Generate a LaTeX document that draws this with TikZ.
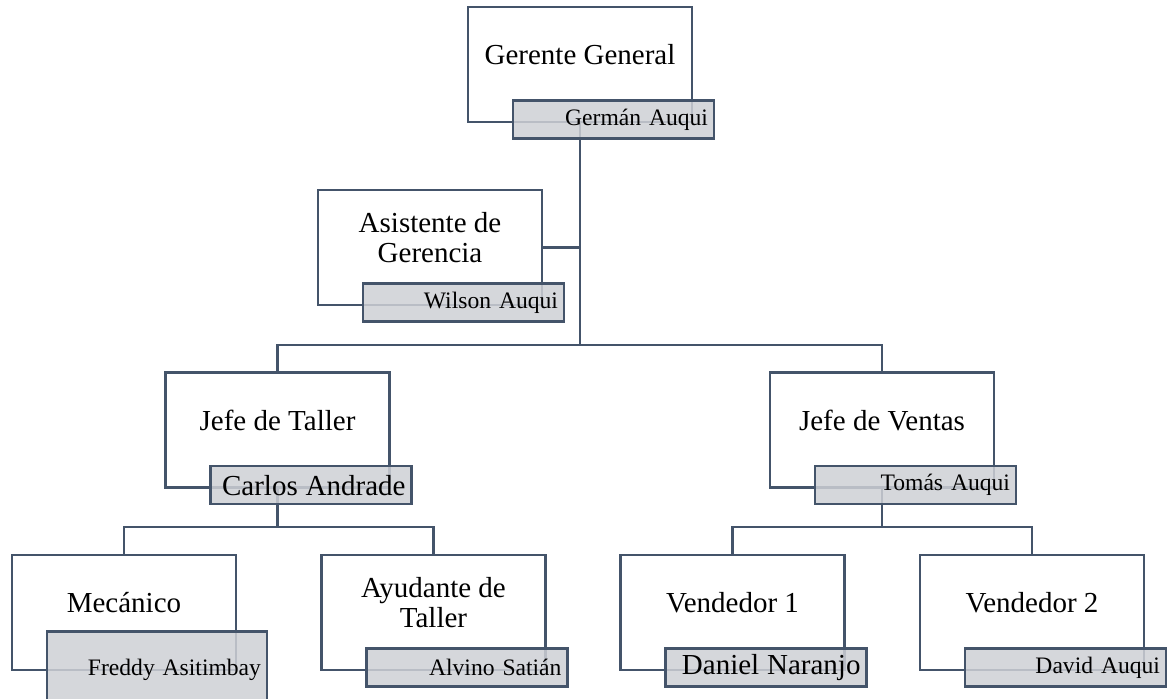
\documentclass[tikz,border=0pt]{standalone}
\usepackage{fontspec}
\setmainfont{Liberation Serif}
\usepackage{tikz}
\usetikzlibrary{backgrounds}

\definecolor{edge}{HTML}{44546A}
\definecolor{namefill}{HTML}{CED0D5}

\tikzset{
  rolebox/.style={draw=edge, line width=1.3pt, minimum width=112pt, minimum height=57.5pt, inner sep=0pt},
  roletext/.style={font=\fontsize{14.5}{15}\selectfont, align=center, inner sep=0pt},
  namebox/.style={draw=edge, line width=1.3pt, fill=namefill, fill opacity=0.85, text opacity=1,
    anchor=north west, font=\fontsize{11.8}{13}\selectfont, text width=94.5pt, align=right,
    inner xsep=3pt, inner ysep=0pt, minimum height=19pt},
  link/.style={draw=edge, line width=1.3pt}
}
\newcommand{\bigname}{\fontsize{14.5}{16}\selectfont}

\begin{document}
\begin{tikzpicture}[x=0.5pt, y=-0.5pt]
    \useasboundingbox (0,0) rectangle (1170,698);
    \clip (0,0) rectangle (1170,698);

    % Role boxes and titles
    \foreach \n/\x/\y/\t in {gerente/580/64.5/Gerente General, asistente/430/247.5/{Asistente de\\Gerencia},
      taller/277.5/430/Jefe de Taller, ventas/882/430/Jefe de Ventas, mecanico/124/612.5/Mecánico,
      ayudante/433.5/612.5/{Ayudante de\\Taller}, vendedor1/732.5/612.5/Vendedor 1, vendedor2/1032/612.5/Vendedor 2} {
      \node[rolebox] (\n) at (\x,\y) {};
      \node[roletext] at ([yshift=5pt]\n.center) {\t};
    }

    % Name boxes
    \foreach \n/\p in {gerente/Germán Auqui, asistente/Wilson Auqui, taller/{\bigname Carlos Andrade},
      ventas/Tomás Auqui, ayudante/Alvino Satián, vendedor1/{\bigname Daniel Naranjo}, vendedor2/David Auqui}
      \node[namebox] (\n-name) at ([xshift=22.5pt, yshift=12pt]\n.south west) {\p};
    \node[namebox, text width=104pt, minimum height=38pt] (mecanico-name)
      at ([xshift=17.5pt, yshift=20.5pt]mecanico.south west) {Freddy Asitimbay};

    % Connectors
    \begin{scope}[on background layer]
      \coordinate (top-bus) at (580,345);
      \coordinate (taller-bus) at (277.5,527);
      \coordinate (ventas-bus) at (882,527);
      \draw[link] (gerente.south) -- (top-bus);
      \draw[link] (asistente.east) -- (asistente.east -| top-bus);
      \draw[link] (taller.north) |- (top-bus) -| (ventas.north);
      \draw[link] (taller.south) -- (taller-bus);
      \draw[link] (mecanico.north) |- (taller-bus) -| (ayudante.north);
      \draw[link] (ventas.south) -- (ventas-bus);
      \draw[link] (vendedor1.north) |- (ventas-bus) -| (vendedor2.north);
    \end{scope}

\end{tikzpicture}
\end{document}
